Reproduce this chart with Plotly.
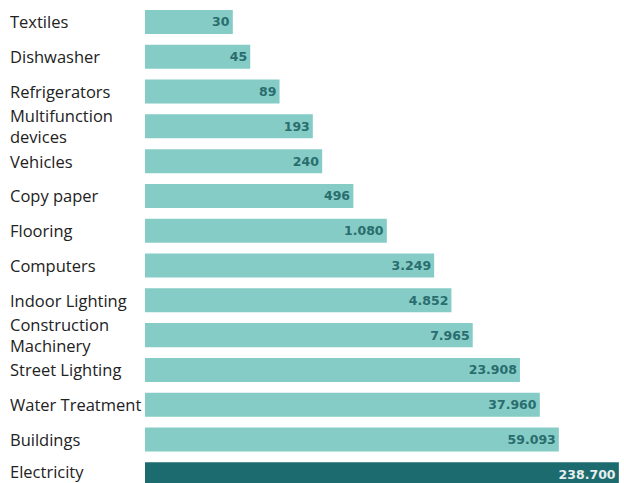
import plotly.graph_objects as go

# Annual savings potential by product group (values shown with "." as thousands separator)
categories = [
    "Textiles", "Dishwasher", "Refrigerators", "Multifunction devices", "Vehicles",
    "Copy paper", "Flooring", "Computers", "Indoor Lighting", "Construction Machinery",
    "Street Lighting", "Water Treatment", "Buildings", "Electricity",
]
row_labels = [
    "Textiles", "Dishwasher", "Refrigerators", "Multifunction<br>devices", "Vehicles",
    "Copy paper", "Flooring", "Computers", "Indoor Lighting", "Construction<br>Machinery",
    "Street Lighting", "Water Treatment", "Buildings", "Electricity",
]
values = [30, 45, 89, 193, 240, 496, 1080, 3249, 4852, 7965, 23908, 37960, 59093, 238700]

LIGHT = "#84ccc5"
DARK = "#1c6b6e"

def fmt(v):
    return f"{v:,}".replace(",", ".")

bar_colors = [DARK if c == "Electricity" else LIGHT for c in categories]
text_colors = ["#e6eeee" if c == "Electricity" else "#2a6d6e" for c in categories]

fig = go.Figure(
    go.Bar(
        x=values,
        y=categories,
        orientation="h",
        marker=dict(color=bar_colors, line=dict(width=0)),
        width=0.69,
        text=[fmt(v) for v in values],
        textposition="inside",
        insidetextanchor="end",
        textangle=0,
        textfont=dict(family="DejaVu Sans", size=12.5, color=text_colors, weight="bold"),
        cliponaxis=False,
        hoverinfo="skip",
    )
)

annotations = [
    dict(
        x=-0.286, xref="paper", y=cat, yref="y",
        yshift=3 if cat == "Electricity" else 0,
        text=lab, showarrow=False, xanchor="left", align="left",
        font=dict(family="Open Sans", size=16.5, color="#222222"),
    )
    for cat, lab in zip(categories, row_labels)
]

fig.update_layout(
    width=624, height=483,
    margin=dict(l=145, r=0, t=0, b=0),
    paper_bgcolor="white", plot_bgcolor="white",
    showlegend=False,
    bargap=0.31,
    annotations=annotations,
    xaxis=dict(type="log", range=[0.59, 5.43], visible=False, showgrid=False),
    yaxis=dict(
        type="category", categoryorder="array", categoryarray=categories,
        range=[13.25, -0.632], showticklabels=False, showgrid=False,
        zeroline=False, ticks="",
    ),
)

fig.write_html("out.html")
